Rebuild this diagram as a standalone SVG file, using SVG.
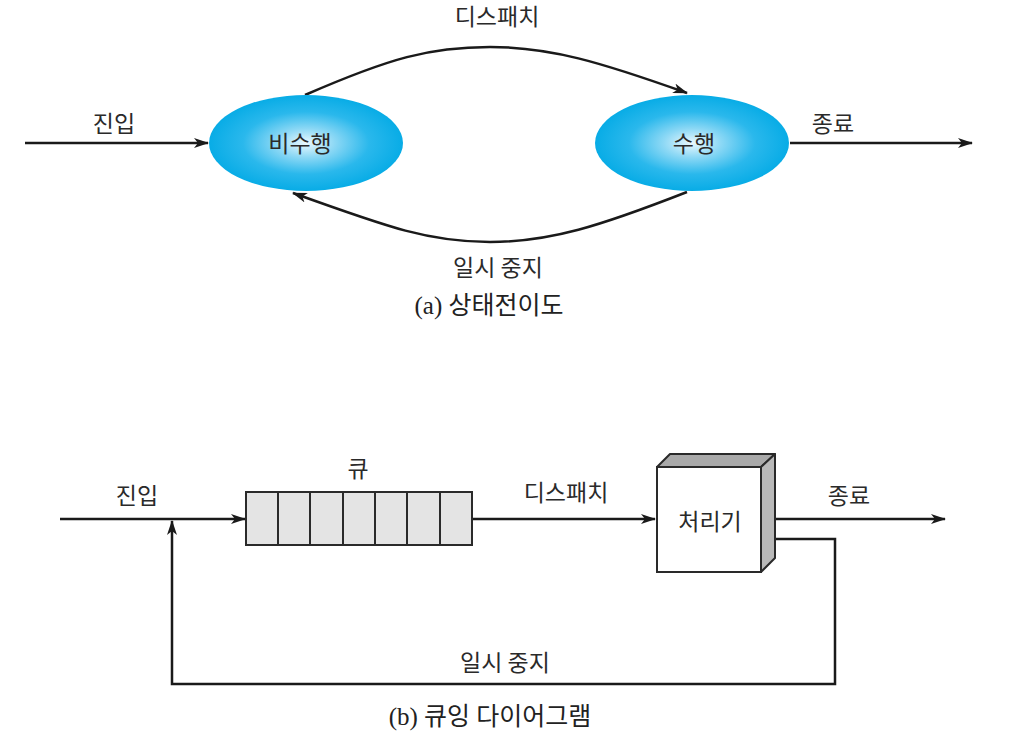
<svg xmlns="http://www.w3.org/2000/svg" width="1021" height="748" viewBox="0 0 1021 748">
<defs>
<radialGradient id="blue" cx="50%" cy="50%" r="50%">
<stop offset="0%" stop-color="#eaf8fe"/>
<stop offset="30%" stop-color="#8cd8f5"/>
<stop offset="65%" stop-color="#2ab8ec"/>
<stop offset="100%" stop-color="#08ace6"/>
</radialGradient>
<marker id="arr" viewBox="0 0 15 10" refX="14" refY="5" markerWidth="15" markerHeight="10" markerUnits="userSpaceOnUse" orient="auto">
<path d="M0,0 L15,5 L0,10 L4,5 z" fill="#1a1a1a"/>
</marker>
<style>
.t{font-family:"Noto Sans CJK KR","Noto Sans",sans-serif;font-size:23px;fill:#2a2a2a;text-anchor:middle}
.cap{font-family:"Liberation Serif","Noto Sans CJK KR",serif;font-size:25px;fill:#222;text-anchor:middle}
.ln{fill:none;stroke:#1a1a1a;stroke-width:2.5}
.cell{fill:#e4e4e4;stroke:#2a2a2a;stroke-width:2}
</style>
</defs>
<rect width="1021" height="748" fill="#fff"/>

<g id="connectors">
<line class="ln" x1="25" y1="143" x2="208" y2="143" marker-end="url(#arr)"/>
<line class="ln" x1="790" y1="143" x2="972" y2="143" marker-end="url(#arr)"/>
<path class="ln" d="M305,95 C390,58 430,47 490,47 C550,47 600,62 687,93" marker-end="url(#arr)"/>
<path class="ln" d="M687,192 C600,226 550,242 490,242 C430,242 390,228 293,193" marker-end="url(#arr)"/>

<line class="ln" x1="60" y1="519" x2="245" y2="519" marker-end="url(#arr)"/>
<line class="ln" x1="472" y1="519" x2="655" y2="519" marker-end="url(#arr)"/>
<line class="ln" x1="768" y1="519" x2="945" y2="519" marker-end="url(#arr)"/>
<path class="ln" d="M768,539 H835 V684 H172 V521" marker-end="url(#arr)"/>
</g>

<g id="node-nonrunning">
<ellipse cx="306" cy="143" rx="97" ry="48" fill="url(#blue)"/>
<text class="t" x="300" y="152">비수행</text>
</g>
<g id="node-running">
<ellipse cx="692" cy="143" rx="97" ry="48" fill="url(#blue)"/>
<text class="t" x="694" y="152">수행</text>
</g>

<g id="labels-a">
<text class="t" x="114" y="132">진입</text>
<text class="t" x="833" y="132">종료</text>
<text class="t" x="497" y="25">디스패치</text>
<text class="t" x="498" y="276">일시 중지</text>
<text class="cap" x="489" y="314">(a) 상태전이도</text>
</g>

<g id="node-queue">
<rect class="cell" x="246" y="492" width="226" height="53"/>
<line class="cell" x1="278" y1="492" x2="278" y2="545"/>
<line class="cell" x1="310" y1="492" x2="310" y2="545"/>
<line class="cell" x1="343" y1="492" x2="343" y2="545"/>
<line class="cell" x1="375" y1="492" x2="375" y2="545"/>
<line class="cell" x1="407" y1="492" x2="407" y2="545"/>
<line class="cell" x1="440" y1="492" x2="440" y2="545"/>
<text class="t" x="358" y="477">큐</text>
</g>

<g id="node-processor">
<polygon points="657,467 670,454 775,454 761,467" fill="#a9a9a9" stroke="#2a2a2a" stroke-width="2" stroke-linejoin="round"/>
<polygon points="761,467 775,454 775,558 761,572" fill="#b9b9b9" stroke="#2a2a2a" stroke-width="2" stroke-linejoin="round"/>
<rect x="657" y="467" width="104" height="105" fill="#fff" stroke="#2a2a2a" stroke-width="2"/>
<text class="t" x="710" y="530">처리기</text>
</g>

<g id="labels-b">
<text class="t" x="137" y="504">진입</text>
<text class="t" x="566" y="501">디스패치</text>
<text class="t" x="849" y="504">종료</text>
<text class="t" x="505" y="671">일시 중지</text>
<text class="cap" x="490" y="725">(b) 큐잉 다이어그램</text>
</g>
</svg>
